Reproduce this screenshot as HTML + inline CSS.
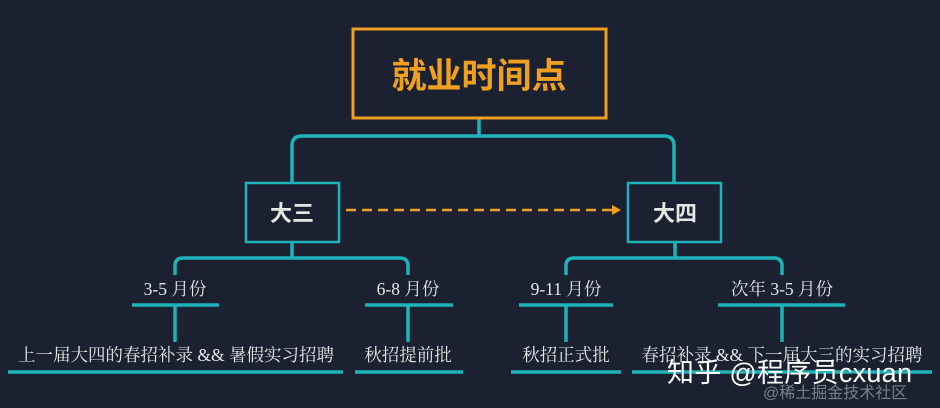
<!DOCTYPE html>
<html><head><meta charset="utf-8"><style>
html,body{margin:0;padding:0;background:#1b2130;}
svg{display:block}
text{font-family:"Liberation Serif","Noto Serif CJK SC","Noto Sans CJK SC",serif;}
.b{font-family:"Liberation Sans","Noto Sans CJK SC",sans-serif;font-weight:bold}
.s{font-family:"Liberation Sans","Noto Sans CJK SC",sans-serif;}
</style></head><body>
<svg width="940" height="408" viewBox="0 0 940 408" xmlns="http://www.w3.org/2000/svg">
<rect width="940" height="408" fill="#1b2130"/>
<g fill="none" stroke="#1db3b8" stroke-width="3.5">
<path d="M479 119 V136"/>
<path d="M292 183 V146 Q292 136 302 136 H664 Q674 136 674 146 V183"/>
<rect x="246" y="183" width="93" height="59" stroke-width="2.5"/>
<rect x="628" y="183" width="93" height="59" stroke-width="2.5"/>
<path d="M292 242 V258"/>
<path d="M175 275 V266 Q175 258 183 258 H400 Q408 258 408 266 V275"/>
<path d="M132 305 H219 M175 305 V342 M8 372 H343"/>
<path d="M365 305 H453 M408 305 V342 M355 372 H463"/>
<path d="M675 242 V258"/>
<path d="M566 275 V266 Q566 258 574 258 H774 Q782 258 782 266 V275"/>
<path d="M519 305 H613 M566 305 V342 M511 372 H621"/>
<path d="M718 305 H845 M782 305 V342 M632 372 H932"/>
</g>
<rect x="353" y="29" width="253" height="89" fill="none" stroke="#f0a020" stroke-width="3"/>
<text x="479" y="88" text-anchor="middle" class="b" font-size="35" fill="#f0a020">就业时间点</text>
<path d="M346 210 H612" stroke="#f0a020" stroke-width="2.5" stroke-dasharray="10 6"/>
<path d="M612 205 L621 210 L612 215 Z" fill="#f0a020"/>
<text x="292" y="221" text-anchor="middle" class="b" font-size="22" fill="#e6e6e6">大三</text>
<text x="675" y="221" text-anchor="middle" class="b" font-size="22" fill="#e6e6e6">大四</text>
<g fill="#e6e6e6" font-size="17.5" text-anchor="middle">
<text x="175" y="295">3-5 月份</text>
<text x="408" y="295">6-8 月份</text>
<text x="566" y="295">9-11 月份</text>
<text x="782" y="295">次年 3-5 月份</text>
<text x="176" y="361">上一届大四的春招补录 &amp;&amp; 暑假实习招聘</text>
<text x="408" y="361">秋招提前批</text>
<text x="566" y="361">秋招正式批</text>
<text x="782" y="361">春招补录 &amp;&amp; 下一届大三的实习招聘</text>
</g>
<text x="667" y="382" class="s" font-size="27" textLength="245" fill="#ffffff">知乎 @程序员cxuan</text>
<text x="763" y="398" class="s" font-size="16" fill="#7a808a">@稀土掘金技术社区</text>
</svg>
</body></html>
